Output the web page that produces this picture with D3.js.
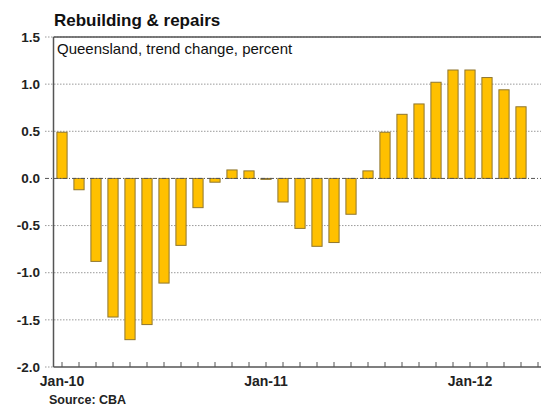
<!DOCTYPE html>
<html>
<head>
<meta charset="utf-8">
<script src="https://cdn.jsdelivr.net/npm/d3@7"></script>
<style>
  html, body { margin: 0; padding: 0; background: #fff; }
  svg { display: block; font-family: "Liberation Sans", Arial, sans-serif; }
</style>
</head>
<body>
<svg id="chart" width="541" height="406"></svg>
<script>
// Monthly categories on the x axis (the final month has no reading yet)
const months = [
  "Jan-10","Feb-10","Mar-10","Apr-10","May-10","Jun-10","Jul-10","Aug-10","Sep-10","Oct-10","Nov-10","Dec-10",
  "Jan-11","Feb-11","Mar-11","Apr-11","May-11","Jun-11","Jul-11","Aug-11","Sep-11","Oct-11","Nov-11","Dec-11",
  "Jan-12","Feb-12","Mar-12","Apr-12","May-12"
];
// Queensland rebuilding & repairs, trend change, percent
const values = [
  0.49, -0.12, -0.88, -1.47, -1.71, -1.55, -1.11, -0.71, -0.31, -0.04, 0.09, 0.08,
  -0.01, -0.25, -0.53, -0.72, -0.68, -0.38, 0.08, 0.49, 0.68, 0.79, 1.02, 1.15,
  1.15, 1.07, 0.94, 0.76
];
const yTicks = [1.5, 1.0, 0.5, 0.0, -0.5, -1.0, -1.5, -2.0];
const xLabels = ["Jan-10", "Jan-11", "Jan-12"];

(function () {
  const svg = d3.select("#chart");
  const plotL = 53.5, plotR = 546.5, plotT = 37, plotB = 367, frameR = 541;

  const x = d3.scaleBand().domain(months).range([plotL, plotR]).paddingInner(0.4).paddingOuter(0.2);
  const y = d3.scaleLinear().domain([-2.0, 1.5]).range([plotB, plotT]);

  // Gridlines
  svg.append("g").selectAll("line")
    .data(yTicks.filter(t => t !== 0))
    .join("line")
    .attr("x1", 45).attr("x2", d => d === -2.0 ? plotL : frameR)
    .attr("y1", d => y(d)).attr("y2", d => y(d))
    .attr("stroke", "#9a9a9a").attr("stroke-width", 1)
    .attr("stroke-dasharray", "1.5,1.5");

  // Bars
  svg.append("g").selectAll("rect")
    .data(values)
    .join("rect")
    .attr("x", (d, i) => x(months[i]))
    .attr("width", x.bandwidth())
    .attr("y", d => y(Math.max(0, d)))
    .attr("height", d => Math.abs(y(d) - y(0)))
    .attr("fill", "#FFC000")
    .attr("stroke", "#8f7630")
    .attr("stroke-width", 1);

  // Zero line (dash-dot)
  svg.append("line")
    .attr("x1", 45).attr("x2", frameR)
    .attr("y1", y(0)).attr("y2", y(0))
    .attr("stroke", "#555").attr("stroke-width", 1)
    .attr("stroke-dasharray", "4,2,1,2");

  // Frame: top border and left axis
  svg.append("line").attr("x1", plotL).attr("x2", frameR).attr("y1", plotT).attr("y2", plotT)
    .attr("stroke", "#555").attr("stroke-width", 1.5);
  svg.append("line").attr("x1", plotL).attr("x2", plotL).attr("y1", plotT).attr("y2", plotB)
    .attr("stroke", "#555").attr("stroke-width", 1.5);

  // Bottom axis with inward ticks at each month
  const xAxis = d3.axisBottom(x).tickSize(-5).tickFormat(d => xLabels.includes(d) ? d : "");
  const gx = svg.append("g").attr("transform", `translate(0,${plotB})`).call(xAxis);
  gx.select(".domain").attr("d", `M${plotL},0H${frameR}`).attr("stroke", "#555").attr("stroke-width", 1.5);
  gx.selectAll(".tick line").attr("stroke", "#555");
  gx.selectAll(".tick text")
    .attr("y", 9).attr("dy", "0.71em")
    .attr("font-family", "Liberation Sans, Arial, sans-serif")
    .attr("font-size", 14).attr("font-weight", "bold").attr("fill", "#222");

  // Y labels
  svg.append("g").selectAll("text")
    .data(yTicks)
    .join("text")
    .attr("x", 40).attr("y", d => y(d))
    .attr("dy", "0.35em")
    .attr("text-anchor", "end")
    .attr("font-size", 13.5).attr("font-weight", "bold").attr("fill", "#222")
    .text(d => d.toFixed(1));

  // Titles and source
  svg.append("text").attr("x", 54).attr("y", 26)
    .attr("font-size", 17).attr("font-weight", "bold").attr("fill", "#111")
    .text("Rebuilding & repairs");
  svg.append("text").attr("x", 57).attr("y", 54)
    .attr("font-size", 15).attr("fill", "#111")
    .text("Queensland, trend change, percent");
  svg.append("text").attr("x", 49).attr("y", 404)
    .attr("font-size", 12.5).attr("font-weight", "bold").attr("fill", "#222")
    .text("Source: CBA");
})();
</script>
</body>
</html>
